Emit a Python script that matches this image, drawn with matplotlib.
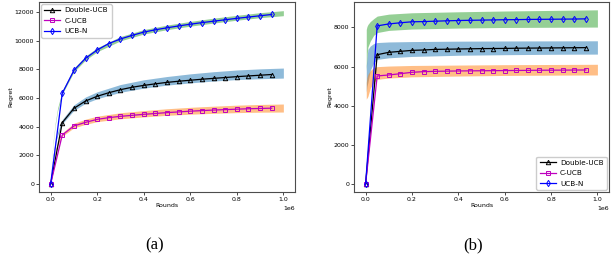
import numpy as np
import matplotlib
matplotlib.use("Agg")
import matplotlib.pyplot as plt

# marker points (rounds)
rounds = [0.0, 0.05, 0.1, 0.15, 0.2, 0.25, 0.3, 0.35, 0.4, 0.45,
          0.5, 0.55, 0.6, 0.65, 0.7, 0.75, 0.8, 0.85, 0.9, 0.95]

# (a)
a_double = [0, 4280, 5280, 5790, 6120, 6370, 6580, 6750, 6880, 6990,
            7090, 7170, 7240, 7310, 7370, 7430, 7490, 7540, 7590, 7640]
a_cucb = [0, 3420, 4050, 4300, 4510, 4630, 4720, 4790, 4860, 4920,
          4980, 5030, 5080, 5120, 5160, 5190, 5220, 5250, 5270, 5290]
a_ucbn = [0, 6330, 7930, 8770, 9350, 9800, 10120, 10370, 10600, 10760,
          10900, 11030, 11150, 11260, 11360, 11460, 11560, 11650, 11740, 11830]

a_band_x = [0.002, 0.005, 0.01, 0.02, 0.03, 0.05, 0.1, 0.15, 0.2, 0.3,
            0.4, 0.5, 0.6, 0.7, 0.8, 0.9, 1.0]
a_ucbn_mean = [700, 1700, 2800, 4200, 5200, 6400, 7950, 8790, 9370, 10140,
               10620, 10930, 11180, 11400, 11600, 11780, 11920]
a_ucbn_std = [30, 50, 70, 90, 100, 120, 130, 140, 140, 150,
              155, 160, 165, 170, 170, 175, 175]
a_double_mean = [400, 1100, 1900, 2900, 3500, 4350, 5330, 5850, 6190, 6670,
                 6980, 7200, 7370, 7510, 7620, 7690, 7740]
a_double_std = [30, 50, 70, 100, 120, 150, 190, 220, 240, 270,
                290, 300, 315, 325, 335, 345, 350]
a_cucb_mean = [300, 900, 1500, 2300, 2800, 3450, 4080, 4340, 4540, 4760,
               4900, 5020, 5110, 5180, 5240, 5280, 5300]
a_cucb_std = [30, 50, 70, 90, 100, 120, 160, 180, 190, 210,
              220, 230, 240, 250, 260, 270, 280]

# (b)
b_double = [0, 6610, 6730, 6780, 6830, 6850, 6880, 6890, 6900, 6910,
            6920, 6925, 6930, 6940, 6945, 6950, 6955, 6960, 6965, 6970]
b_cucb = [0, 5525, 5575, 5640, 5710, 5745, 5760, 5770, 5780, 5785,
          5790, 5795, 5800, 5805, 5810, 5815, 5820, 5822, 5826, 5830]
b_ucbn = [0, 8080, 8180, 8240, 8290, 8300, 8320, 8340, 8355, 8365,
          8375, 8385, 8395, 8400, 8410, 8415, 8420, 8425, 8430, 8440]

b_band_x = [0.003, 0.006, 0.01, 0.02, 0.035, 0.05, 0.1, 0.2, 0.4, 0.6, 0.8, 1.0]
b_ucbn_lo = [5800, 6500, 7000, 7300, 7600, 7740, 7850, 7920, 7970, 8000, 8010, 8020]
b_ucbn_hi = [7900, 8050, 8150, 8300, 8450, 8580, 8680, 8750, 8800, 8840, 8870, 8900]
b_double_lo = [4700, 5000, 5200, 5800, 6200, 6370, 6450, 6520, 6580, 6610, 6630, 6640]
b_double_hi = [6050, 6500, 6880, 7050, 7180, 7230, 7260, 7280, 7300, 7310, 7315, 7320]
b_cucb_lo = [4340, 4400, 4480, 4900, 5200, 5350, 5420, 5480, 5520, 5550, 5565, 5575]
b_cucb_hi = [5200, 5450, 5600, 5800, 5950, 6000, 6030, 6060, 6080, 6100, 6110, 6120]

FS = 4.5
LFS = 5.2
plt.rcParams['font.family'] = 'DejaVu Sans'

fig = plt.figure(figsize=(6.12, 2.6), dpi=100)
ax1 = fig.add_axes([39/612, 68/260, 256/612, 190/260])
ax2 = fig.add_axes([354/612, 68/260, 255/612, 190/260])

x = np.array(rounds) * 1e6


def draw(ax, dbl, cucb, ucbn):
    ax.plot(x, dbl, 'k-', marker='^', mfc='none', ms=3.2, lw=0.9, mew=0.7, label='Double-UCB')
    ax.plot(x, cucb, 'm-', marker='s', mfc='none', ms=3.2, lw=0.9, mew=0.7, label='C-UCB')
    ax.plot(x, ucbn, 'b-', marker='d', mfc='none', ms=3.2, lw=0.9, mew=0.7, label='UCB-N')


def legend(ax, loc):
    ax.legend(loc=loc, fontsize=LFS, handlelength=2.2, borderpad=0.45,
              labelspacing=0.6, borderaxespad=0.3, handletextpad=0.6,
              framealpha=1)


# (a)
bx = np.array(a_band_x) * 1e6
for m, s, c in [(a_double_mean, a_double_std, 'C0'),
                (a_cucb_mean, a_cucb_std, 'C1'),
                (a_ucbn_mean, a_ucbn_std, 'C2')]:
    m = np.array(m); s = np.array(s)
    ax1.fill_between(bx, m - s, m + s, color=c, alpha=0.5, lw=0)
draw(ax1, a_double, a_cucb, a_ucbn)
ax1.set_ylim(-560, 12700)
ax1.set_yticks([0, 2000, 4000, 6000, 8000, 10000, 12000])
legend(ax1, 'upper left')

# (b)
bx = np.array(b_band_x) * 1e6
for lo, hi, c in [(b_double_lo, b_double_hi, 'C0'),
                  (b_cucb_lo, b_cucb_hi, 'C1'),
                  (b_ucbn_lo, b_ucbn_hi, 'C2')]:
    ax2.fill_between(bx, lo, hi, color=c, alpha=0.5, lw=0)
draw(ax2, b_double, b_cucb, b_ucbn)
ax2.set_ylim(-400, 9300)
ax2.set_yticks([0, 2000, 4000, 6000, 8000])
legend(ax2, 'lower right')

for ax in (ax1, ax2):
    ax.set_xlim(-0.05e6, 1.05e6)
    ax.set_xticks([0, 0.2e6, 0.4e6, 0.6e6, 0.8e6, 1.0e6])
    ax.ticklabel_format(axis='x', style='sci', scilimits=(0, 0))
    ax.xaxis.get_offset_text().set_fontsize(FS)
    ax.tick_params(labelsize=FS, length=2, width=0.5, pad=1.5)
    ax.set_xlabel('Rounds', fontsize=FS, labelpad=1)
    ax.set_ylabel('Regret', fontsize=FS, labelpad=1)
    for sp in ax.spines.values():
        sp.set_color('0.3')
        sp.set_linewidth(0.8)

fig.text(155/612, 15/260, '(a)', fontsize=12, family='Liberation Serif',
         ha='center', va='center')
fig.text(473/612, 15/260, '(b)', fontsize=12, family='Liberation Serif',
         ha='center', va='center')

fig.savefig('out.png', dpi=100)
